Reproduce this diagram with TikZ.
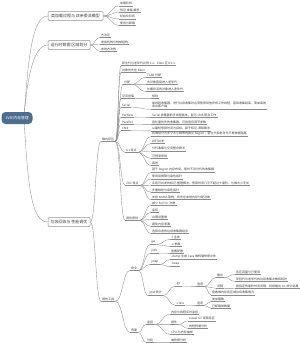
\documentclass[tikz,border=0pt]{standalone}
\usepackage{fontspec}
\setmainfont{Noto Sans CJK SC}
\usepackage{tikz}
\usetikzlibrary{calc,backgrounds}
\definecolor{rootfill}{RGB}{78,110,142}
\definecolor{branch}{RGB}{140,140,140}
\definecolor{ink}{RGB}{60,60,60}

\begin{document}
\begin{tikzpicture}[x=1pt,y=-1pt,
  root/.style={rounded corners=4pt,fill=rootfill,text=white,font=\fontsize{3.8}{4.5}\selectfont,
    minimum width=31pt,minimum height=12pt,inner sep=1pt},
  topic/.style={draw=gray!85,fill=white,rounded corners=1pt,line width=0.5pt,text=ink,
    font=\fontsize{4}{5}\selectfont,minimum height=9pt,inner xsep=2.5pt,inner ysep=1pt},
  uline/.style={draw=branch,line width=0.35pt},
  br/.style={draw=branch,line width=0.35pt},
  leaf/.style={anchor=west,text=ink,font=\fontsize{3}{3.7}\selectfont,inner xsep=1pt,inner ysep=0.8pt,
    append after command={(\tikzlastnode.south west) edge[uline] (\tikzlastnode.south east)}}]
\useasboundingbox (0,0) rectangle (300,343);
% root and main topics
\node[root] (root) at (17,118) {JVM 内存管理};
\coordinate (rj) at (24,118);
\node[topic,minimum width=55pt] (T1) at (75.5,16) {类加载过程与 双亲委派模型};
\node[topic,minimum width=42pt] (T2) at (69,45) {运行时数据 区域划分};
\node[topic,minimum width=42pt] (T3) at (69,222) {垃圾回收与 性能调优};
% leaves of the two upper topics
\foreach \n/\y/\txt in {t11/3.5/加载阶段,t12/10/验证 准备 解析,t13/16.5/初始化阶段,t14/23/使用与卸载}
  \node[leaf] (\n) at (119,\y) {\txt};
\foreach \n/\y/\txt in {t21/35/方法区,t22/42/虚拟机栈与栈帧结构,t23/49/本地方法栈}
  \node[leaf] (\n) at (100,\y) {\txt};
% heap subtree
\node[leaf] (A) at (101,139) {堆内存区};
\node[leaf] (a1) at (121,63) {新生代与老年代比例 1:2，Eden 区 8:1:1};
\node[leaf] (a2) at (121,70) {对象优先在 Eden};
\node[leaf] (a3) at (123,82) {分配};
\node[leaf] (a4) at (121,96) {空间担保};
\node[leaf] (a5) at (121,105) {Serial};
\node[leaf] (a6) at (121,115) {ParNew};
\node[leaf] (a7) at (121,122) {Parallel};
\node[leaf] (a8) at (121,128.5) {CMS};
\node[leaf] (a9) at (125,150) {G1 特点};
\node[leaf] (a10) at (125,183) {ZGC 特点};
\node[leaf] (a11) at (125,218) {调优原则};
\foreach \n/\y/\txt in {a31/75/TLAB 分配,a32/82/大对象直接进入老年代,a33/89/长期存活的对象进入老年代}
  \node[leaf] (\n) at (146,\y) {\txt};
\node[leaf] (a41) at (151,96) {规则};
\node[leaf,align=left] (a51) at (151,105) {单线程收集器，进行垃圾收集时必须暂停其他所有工作线程，直到收集结束，简单高效\\适合客户端};
\node[leaf] (a61) at (151,115) {Serial 收集器的多线程版本，能与 CMS 配合工作};
\node[leaf] (a71) at (151,122) {吞吐量优先的收集器，可自适应调节参数};
\node[leaf] (a81) at (151,128.5) {以最短停顿时间为目标，基于标记-清除算法};
\foreach \n/\y/\txt in {a91/134/将堆划分为多个大小相等的独立 Region，新生代和老年代不再物理隔离,
    a92/141/并行并发,a93/148.5/分代收集与空间整合算法,a94/156/可预测停顿,a95/163/高效}
  \node[leaf] (\n) at (151,\y) {\txt};
\foreach \n/\y/\txt in {a101/170/基于 Region 内存布局，暂时不设分代的收集器,a102/176.5/使用读屏障与染色指针,
    a103/183/实现可并发的标记-整理算法，停顿时间几乎不超过十毫秒，与堆大小无关,
    a104/190/多重映射与染色指针,a105/197/支持 NUMA 架构，优先在本地内存分配对象}
  \node[leaf] (\n) at (151,\y) {\txt};
\foreach \n/\y/\txt in {a111/203/减少 Full GC 次数,a112/210/监控,a113/217/合理设置堆,a114/224/避免内存泄漏,
    a115/231/选择合适的垃圾收集器组合}
  \node[leaf] (\n) at (151,\y) {\txt};
% tools subtree
\node[leaf] (B) at (101,299) {调优工具};
\node[leaf] (C) at (130,268) {命令};
\node[leaf] (D) at (130,330) {界面};
\node[leaf] (c1) at (150,242) {jps};
\node[leaf] (c2) at (150,251) {jinfo};
\node[leaf] (c3) at (150,262) {jmap};
\node[leaf] (c4) at (148,293) {jstat 统计};
\node[leaf] (c11) at (170,237) {-l 主类};
\node[leaf] (c12) at (170,244) {-v 参数};
\node[leaf] (c21) at (170,251) {查看配置};
\node[leaf] (c31) at (170,257) {-dump 生成 Java 堆转储快照文件};
\node[leaf] (c32) at (170,264) {-heap};
\node[leaf] (c41) at (175,284) {-gc};
\node[leaf] (c42) at (175,303) {-class};
\node[leaf] (c411) at (196,284) {选项};
\node[leaf] (c421) at (196,303) {选项};
\node[leaf] (c4111) at (216,275) {输出};
\node[leaf] (c4112) at (216,286) {间隔};
\node[leaf] (c4113) at (211,292.5) {查看堆内存各区域垃圾收集情况};
\node[leaf] (c5) at (235,272) {各区容量与已使用};
\node[leaf] (c6) at (235,279) {年轻代与老年代的垃圾收集次数和耗时};
\node[leaf] (c7) at (235,286) {按指定的毫秒时间间隔，持续输出 GC 统计结果};
\node[leaf] (c8) at (211,299) {类加载数};
\node[leaf] (c9) at (211,306) {已卸载类数量};
\node[leaf] (d1) at (146,322) {监控};
\node[leaf] (d2) at (146,340) {分析};
\node[leaf] (d11) at (170,312) {内存与线程实时监控};
\node[leaf] (d12) at (170,322) {插件};
\node[leaf] (d13) at (170,332) {CPU 与内存抽样};
\node[leaf] (d121) at (188,318.5) {Visual GC 观察各区};
\node[leaf] (d122) at (188,326) {线程转储分析};
\node[leaf] (d21) at (170,340) {堆快照分析};
% connectors
\begin{scope}[on background layer]
  \draw[br] (rj) .. controls (28,60) and (32,16) .. (T1.west);
  \draw[br] (rj) .. controls (27,80) and (33,45) .. (T2.west);
  \draw[br] (rj) .. controls (28,190) and (32,222) .. (T3.west);
  \foreach \ch in {t11,t12,t13,t14}
    \draw[br] (T1.east) .. controls +(8,0) and +(-8,0) .. (\ch.south west);
  \foreach \ch in {t21,t22,t23}
    \draw[br] (T2.east) .. controls +(5,0) and +(-5,0) .. (\ch.south west);
  \foreach \ch in {A,B}
    \draw[br] (T3.east) .. controls +(5.5,0) and +(-5.5,0) .. (\ch.south west);
  \foreach \pa/\ch in {A/a1,A/a2,A/a3,A/a4,A/a5,A/a6,A/a7,A/a8,A/a9,A/a10,A/a11,
      a3/a31,a3/a32,a3/a33,a4/a41,a5/a51,a6/a61,a7/a71,a8/a81,
      a9/a91,a9/a92,a9/a93,a9/a94,a9/a95,a10/a101,a10/a102,a10/a103,a10/a104,a10/a105,
      a11/a111,a11/a112,a11/a113,a11/a114,a11/a115,
      B/C,B/D,C/c1,C/c2,C/c3,C/c4,c1/c11,c1/c12,c2/c21,c3/c31,c3/c32,
      c4/c41,c4/c42,c41/c411,c42/c421,c411/c4111,c411/c4112,c411/c4113,
      c4111/c5,c4111/c6,c4112/c7,c421/c8,c421/c9,
      D/d1,D/d2,d1/d11,d1/d12,d1/d13,d12/d121,d12/d122,d2/d21}
    \draw[br] let \p1=(\pa.south east), \p2=(\ch.south west), \n1={0.5*(\x2-\x1)} in
      (\p1) .. controls +(\n1,0) and +(-\n1,0) .. (\p2);
\end{scope}
\end{tikzpicture}
\end{document}
